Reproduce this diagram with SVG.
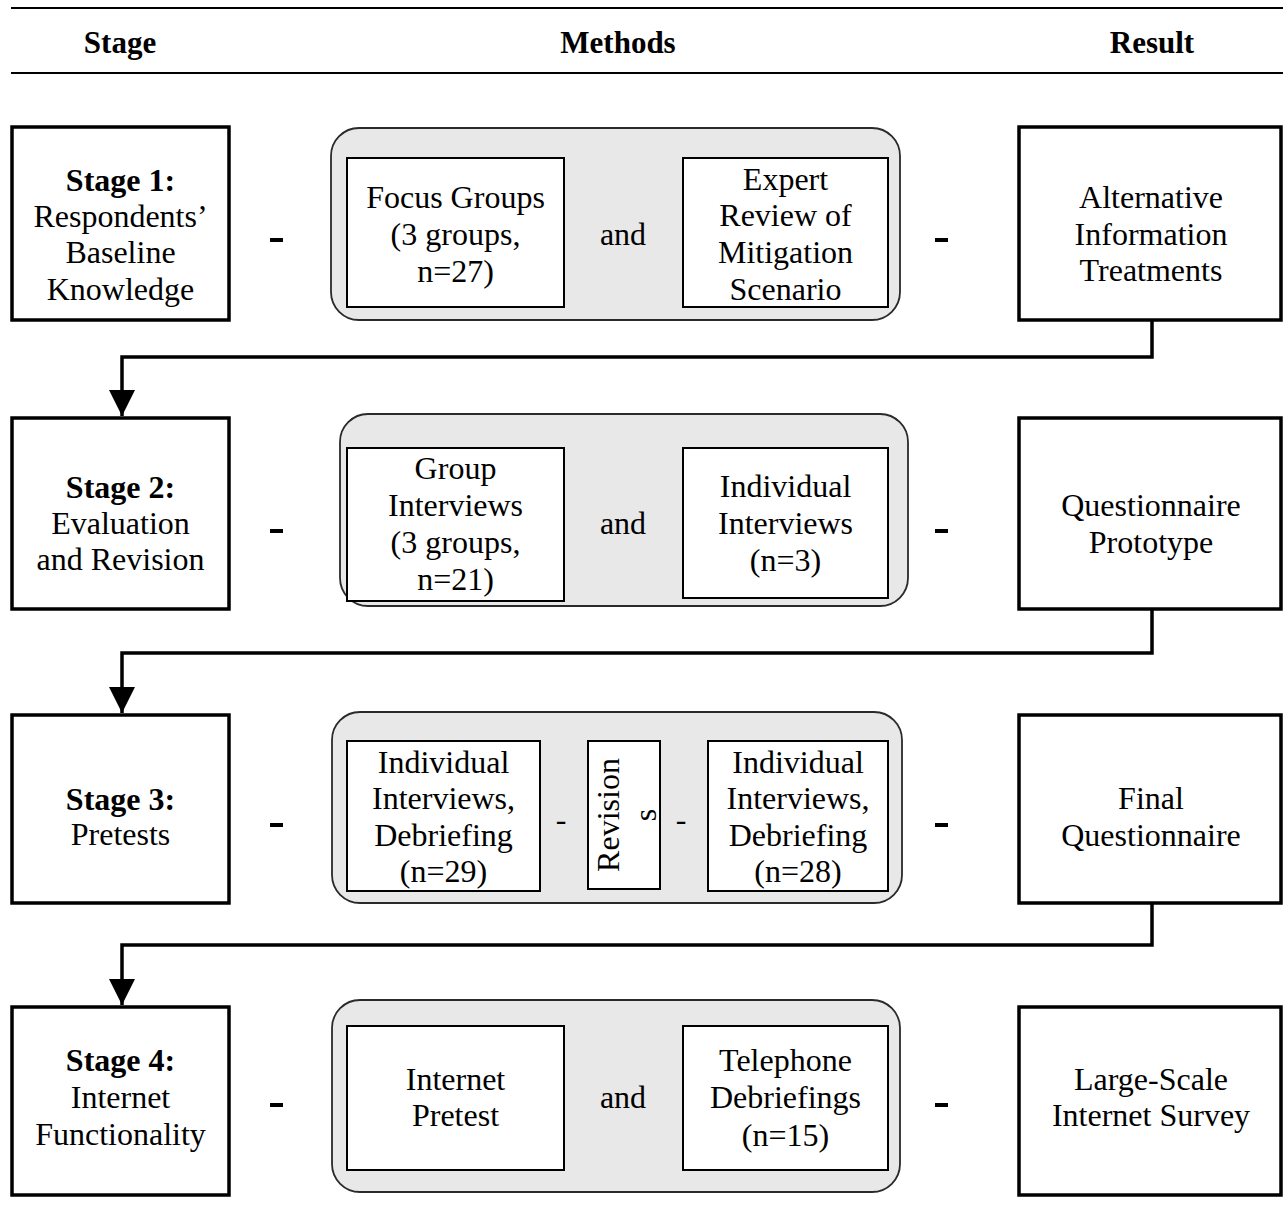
<svg xmlns="http://www.w3.org/2000/svg" width="1283" height="1232" viewBox="0 0 1283 1232">
<defs>
<style>
.t{font-family:"Liberation Serif","Times New Roman",serif;font-size:32px;text-anchor:middle;fill:#000}
.h{font-size:31px}
.b{font-weight:bold}
.stage{fill:#fff;stroke:#000;stroke-width:3.5}
.cont{fill:#e8e8e8;stroke:#2a2a2a;stroke-width:1.8}
.inner{fill:#fff;stroke:#000;stroke-width:2}
.conn{fill:none;stroke:#000;stroke-width:3.5}
.dash{fill:#000}
.rule{stroke:#000;stroke-width:2}
</style>
<marker id="arr" viewBox="0 0 10 10" refX="10" refY="5" markerWidth="7.5" markerHeight="7.5" orient="auto" markerUnits="strokeWidth">
<path d="M0,0 L10,5 L0,10 z" fill="#000"/>
</marker>
</defs>

<g id="header">
<line class="rule" x1="11" y1="8" x2="1283" y2="8"/>
<line class="rule" x1="11" y1="73" x2="1283" y2="73"/>
<text class="t h b" x="120" y="53">Stage</text>
<text class="t h b" x="618" y="53">Methods</text>
<text class="t h b" x="1152" y="53">Result</text>
</g>

<g id="connectors">
<path class="conn" d="M1152,320 V357 H122 V416" marker-end="url(#arr)"/>
<path class="conn" d="M1152,609 V653 H122 V713" marker-end="url(#arr)"/>
<path class="conn" d="M1152,903 V945 H122 V1005" marker-end="url(#arr)"/>
</g>

<g id="row1">
<g id="stage1"><rect class="stage" x="12" y="127" width="217" height="193"/>
<text class="t"><tspan class="b" x="120.5" y="191">Stage 1:</tspan><tspan x="120.5" y="227">Respondents’</tspan><tspan x="120.5" y="263">Baseline</tspan><tspan x="120.5" y="300">Knowledge</tspan></text></g>
<rect class="dash" x="270" y="238" width="13" height="4"/>
<g id="methods1"><rect class="cont" x="331" y="128" width="569" height="192" rx="28"/>
<g id="focus"><rect class="inner" x="347" y="158" width="217" height="149"/>
<text class="t"><tspan x="455.5" y="208">Focus Groups</tspan><tspan x="455.5" y="245">(3 groups,</tspan><tspan x="455.5" y="282">n=27)</tspan></text></g>
<text class="t" x="623" y="245">and</text>
<g id="expert"><rect class="inner" x="683" y="158" width="205" height="149"/>
<text class="t"><tspan x="785.5" y="190">Expert</tspan><tspan x="785.5" y="226">Review of</tspan><tspan x="785.5" y="263">Mitigation</tspan><tspan x="785.5" y="300">Scenario</tspan></text></g>
</g>
<rect class="dash" x="935" y="238" width="13" height="4"/>
<g id="result1"><rect class="stage" x="1019" y="127" width="262" height="193"/>
<text class="t"><tspan x="1151" y="208">Alternative</tspan><tspan x="1151" y="245">Information</tspan><tspan x="1151" y="281">Treatments</tspan></text></g>
</g>

<g id="row2">
<g id="stage2"><rect class="stage" x="12" y="418" width="217" height="191"/>
<text class="t"><tspan class="b" x="120.5" y="498">Stage 2:</tspan><tspan x="120.5" y="534">Evaluation</tspan><tspan x="120.5" y="570">and Revision</tspan></text></g>
<rect class="dash" x="270" y="529" width="13" height="4"/>
<g id="methods2"><rect class="cont" x="340" y="414" width="568" height="192" rx="28"/>
<g id="groupint"><rect class="inner" x="347" y="448" width="217" height="153"/>
<text class="t"><tspan x="455.5" y="479">Group</tspan><tspan x="455.5" y="516">Interviews</tspan><tspan x="455.5" y="553">(3 groups,</tspan><tspan x="455.5" y="590">n=21)</tspan></text></g>
<text class="t" x="623" y="534">and</text>
<g id="indint"><rect class="inner" x="683" y="448" width="205" height="150"/>
<text class="t"><tspan x="785.5" y="497">Individual</tspan><tspan x="785.5" y="534">Interviews</tspan><tspan x="785.5" y="571">(n=3)</tspan></text></g>
</g>
<rect class="dash" x="935" y="529" width="13" height="4"/>
<g id="result2"><rect class="stage" x="1019" y="418" width="262" height="191"/>
<text class="t"><tspan x="1151" y="516">Questionnaire</tspan><tspan x="1151" y="553">Prototype</tspan></text></g>
</g>

<g id="row3">
<g id="stage3"><rect class="stage" x="12" y="715" width="217" height="188"/>
<text class="t"><tspan class="b" x="120.5" y="810">Stage 3:</tspan><tspan x="120.5" y="845">Pretests</tspan></text></g>
<rect class="dash" x="270" y="823" width="13" height="4"/>
<g id="methods3"><rect class="cont" x="332" y="712" width="570" height="191" rx="28"/>
<g id="indint1"><rect class="inner" x="347" y="741" width="193" height="150"/>
<text class="t"><tspan x="443.5" y="773">Individual</tspan><tspan x="443.5" y="809">Interviews,</tspan><tspan x="443.5" y="846">Debriefing</tspan><tspan x="443.5" y="882">(n=29)</tspan></text></g>
<text class="t" x="561" y="830">-</text>
<g id="revisions"><rect class="inner" x="588" y="741" width="72" height="148"/>
<text class="t" transform="translate(619,815) rotate(-90)"><tspan x="0" y="0">Revision</tspan><tspan x="0" y="37">s</tspan></text></g>
<text class="t" x="681" y="830">-</text>
<g id="indint2"><rect class="inner" x="708" y="741" width="180" height="150"/>
<text class="t"><tspan x="798" y="773">Individual</tspan><tspan x="798" y="809">Interviews,</tspan><tspan x="798" y="846">Debriefing</tspan><tspan x="798" y="882">(n=28)</tspan></text></g>
</g>
<rect class="dash" x="935" y="823" width="13" height="4"/>
<g id="result3"><rect class="stage" x="1019" y="715" width="262" height="188"/>
<text class="t"><tspan x="1151" y="809">Final</tspan><tspan x="1151" y="846">Questionnaire</tspan></text></g>
</g>

<g id="row4">
<g id="stage4"><rect class="stage" x="12" y="1007" width="217" height="188"/>
<text class="t"><tspan class="b" x="120.5" y="1071">Stage 4:</tspan><tspan x="120.5" y="1108">Internet</tspan><tspan x="120.5" y="1145">Functionality</tspan></text></g>
<rect class="dash" x="270" y="1103" width="13" height="4"/>
<g id="methods4"><rect class="cont" x="332" y="1000" width="568" height="192" rx="28"/>
<g id="netpre"><rect class="inner" x="347" y="1026" width="217" height="144"/>
<text class="t"><tspan x="455.5" y="1090">Internet</tspan><tspan x="455.5" y="1126">Pretest</tspan></text></g>
<text class="t" x="623" y="1108">and</text>
<g id="teledeb"><rect class="inner" x="683" y="1026" width="205" height="144"/>
<text class="t"><tspan x="785.5" y="1071">Telephone</tspan><tspan x="785.5" y="1108">Debriefings</tspan><tspan x="785.5" y="1146">(n=15)</tspan></text></g>
</g>
<rect class="dash" x="935" y="1103" width="13" height="4"/>
<g id="result4"><rect class="stage" x="1019" y="1007" width="262" height="188"/>
<text class="t"><tspan x="1151" y="1090">Large-Scale</tspan><tspan x="1151" y="1126">Internet Survey</tspan></text></g>
</g>
</svg>
